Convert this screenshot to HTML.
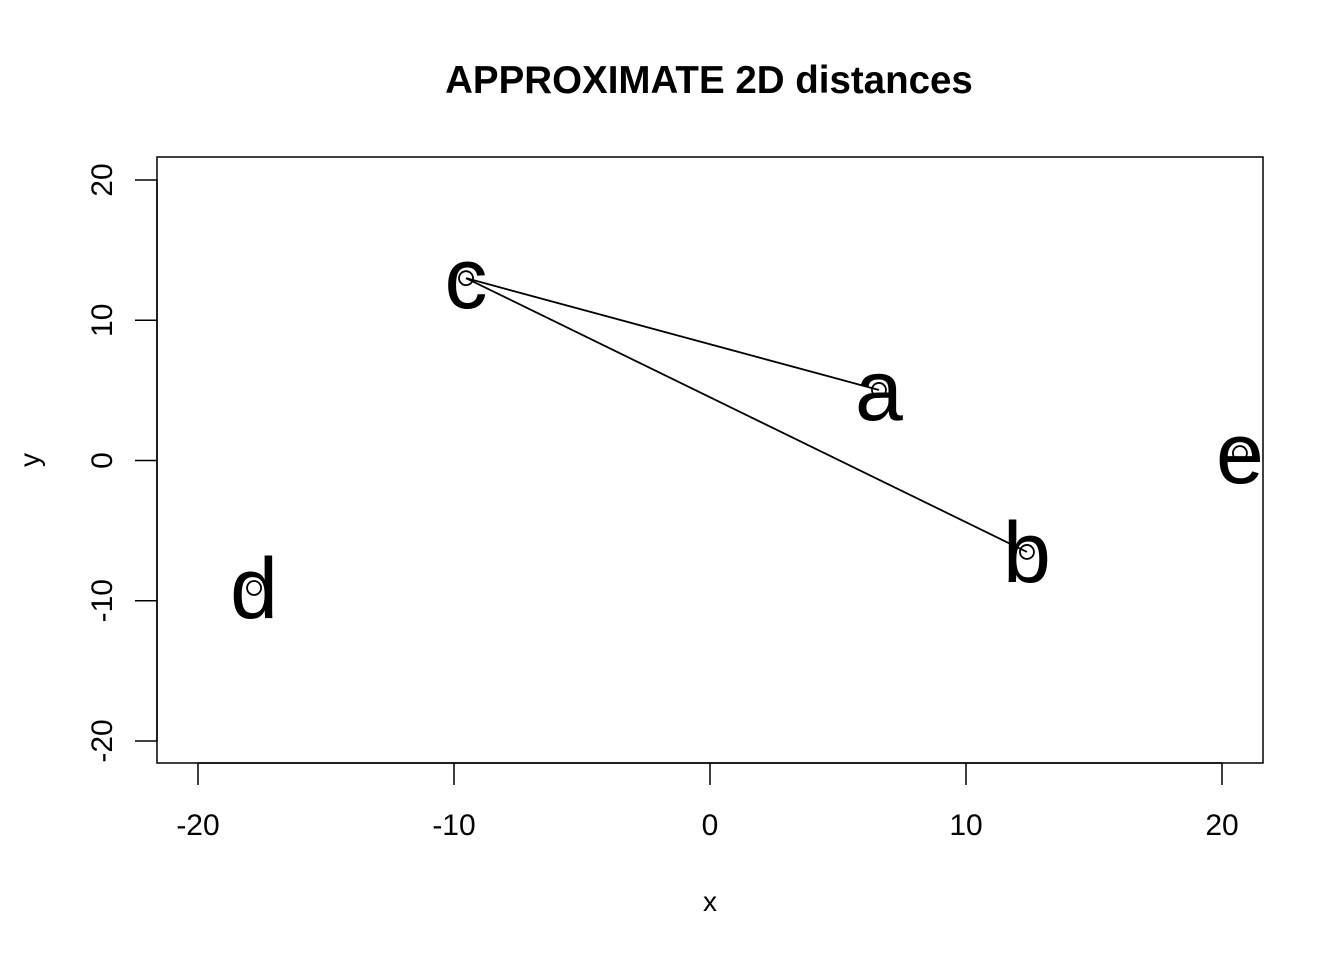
<!DOCTYPE html>
<html><head><meta charset="utf-8">
<style>
html,body{margin:0;padding:0;background:#fff;}
svg{display:block;font-family:"Liberation Sans",Arial,sans-serif;}
</style></head>
<body>
<svg id="chart" width="1344" height="960">
  <text x="709" y="93" text-anchor="middle" font-size="38.5" font-weight="bold">APPROXIMATE 2D distances</text>
  <rect x="157" y="157" width="1106" height="606" fill="none" stroke="#000" stroke-width="1.5"/>
  <text x="710" y="911" text-anchor="middle" font-size="28">x</text>
  <text transform="translate(39,460) rotate(-90)" text-anchor="middle" font-size="28">y</text>
  <g id="axes"></g>
  <g id="marks"></g>
</svg>
<script>
const xTicks = [-20, -10, 0, 10, 20];
const yTicks = [-20, -10, 0, 10, 20];
const labels = ["a", "b", "c", "d", "e"];
const xVals = [6.6, 12.38, -9.53, -17.81, 20.7];
const yVals = [5.03, -6.52, 13.0, -9.09, 0.53];
const linkFrom = ["c", "c"];
const linkTo = ["a", "b"];

const NS = "http://www.w3.org/2000/svg";
function sx(v){ return 710 + v * 25.6; }
function sy(v){ return 460.5 - v * 14.025; }
function mk(tag, attrs, parent){
  const e = document.createElementNS(NS, tag);
  for (const k in attrs) e.setAttribute(k, attrs[k]);
  parent.appendChild(e);
  return e;
}
const axes = document.getElementById("axes");
const marks = document.getElementById("marks");

let xl = mk("line", {x1: sx(xTicks[0]), x2: sx(xTicks[xTicks.length-1]), y1: 763, y2: 763, stroke: "#000", "stroke-width": 1.5}, axes);


xTicks.forEach(t => {
  const tk = mk("line", {x1: sx(t), x2: sx(t), y1: 763, y2: 785, stroke: "#000", "stroke-width": 1.5}, axes);
  
  
  const tl = mk("text", {x: sx(t), y: 835, "text-anchor": "middle", "font-size": 30}, axes);
  tl.textContent = t;
  
  
});
let yl = mk("line", {x1: 157, x2: 157, y1: sy(yTicks[0]), y2: sy(yTicks[yTicks.length-1]), stroke: "#000", "stroke-width": 1.5}, axes);


yTicks.forEach(t => {
  const tk = mk("line", {x1: 135, x2: 157, y1: sy(t), y2: sy(t), stroke: "#000", "stroke-width": 1.5}, axes);
  
  
  const tl = mk("text", {transform: "translate(112," + sy(t) + ") rotate(-90)", "text-anchor": "middle", "font-size": 30}, axes);
  tl.textContent = t;
  
  
});
linkFrom.forEach((f, i) => {
  const a = labels.indexOf(f), b = labels.indexOf(linkTo[i]);
  const ln = mk("line", {x1: sx(xVals[a]), y1: sy(yVals[a]), x2: sx(xVals[b]), y2: sy(yVals[b]), stroke: "#000", "stroke-width": 1.8}, marks);
  
  
});
labels.forEach((lab, i) => {
  const c = mk("circle", {cx: sx(xVals[i]), cy: sy(yVals[i]), r: 7, fill: "none", stroke: "#000", "stroke-width": 1.8}, marks);
  
  
  const t = mk("text", {x: sx(xVals[i]), y: sy(yVals[i]) + 30, "text-anchor": "middle", "font-size": 86}, marks);
  t.textContent = lab;
  
  
});
</script>
</body></html>
